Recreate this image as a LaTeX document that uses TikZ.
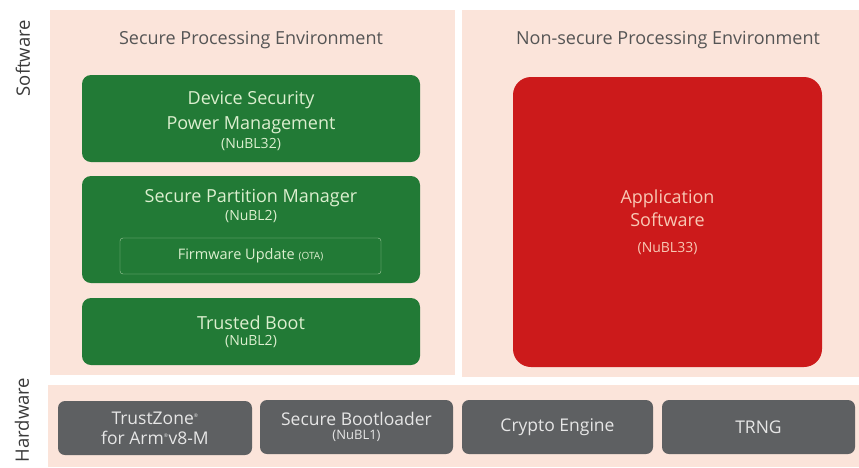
\documentclass[tikz,border=0pt]{standalone}
\usepackage{fontspec}
\setmainfont{Open Sans}
\usetikzlibrary{positioning}
\definecolor{peach}{HTML}{FBE4DA}
\definecolor{secgreen}{HTML}{227A36}
\definecolor{nsred}{HTML}{CC1A1B}
\definecolor{hwgray}{HTML}{5E6062}
\definecolor{titlegray}{HTML}{555555}
\definecolor{sidegray}{HTML}{3A3A3A}
\definecolor{greentext}{HTML}{DCEFCF}
\definecolor{redtext}{HTML}{F8C8B4}
\definecolor{graytext}{HTML}{E6E6E6}

\begin{document}
\begin{tikzpicture}[x=1pt,y=-1pt,
  panel/.style={fill=peach, anchor=north west, inner sep=0pt},
  secbox/.style={fill=secgreen, rounded corners=9pt, minimum width=338pt,
    text=greentext, align=center, font=\fontsize{18}{25}\selectfont},
  hwbox/.style={fill=hwgray, rounded corners=7pt, minimum width=193pt, minimum height=54pt,
    text=graytext, align=center, font=\fontsize{17.5}{20}\selectfont},
  envtitle/.style={text=titlegray, font=\fontsize{18}{20}\selectfont},
  sidelabel/.style={text=sidegray, rotate=90, font=\fontsize{18.5}{22}\selectfont}]
\useasboundingbox (0,0) rectangle (859,467);

% background panels
\node[panel, minimum width=405pt, minimum height=365pt] (spe) at (50,10) {};
\node[panel, minimum width=397pt, minimum height=367pt] (npe) at (462,10) {};
\node[panel, minimum width=811pt, minimum height=82pt] (hw) at (48,385) {};

% side labels
\node[sidelabel] (swlabel) at (23,58) {Software};
\node[sidelabel] (hwlabel) at (22,420) {Hardware};

% environment titles
\node[envtitle] (spetitle) at (251,40) {Secure Processing Environment};
\node[envtitle] (npetitle) at (668,40) {Non-secure Processing Environment};

% secure side
\node[secbox, minimum height=87pt] (dspm) at (251,118.5)
  {\strut Device Security\\Power Management\\[-6pt]{\fontsize{14}{15}\selectfont(NuBL32)}};
\node[secbox, minimum height=107pt] (spm) at (251,229.5) {};
\node[text=greentext, align=center, font=\fontsize{18}{25}\selectfont] (spmtext) at (251,206)
  {Secure Partition Manager\\[-7pt]{\fontsize{14}{15}\selectfont(NuBL2)}};
\node[draw=greentext!70!secgreen, rounded corners=3pt, minimum width=261pt, minimum height=36pt,
  text=greentext, font=\fontsize{14.5}{16}\selectfont] (fwu) at (250.5,256)
  {Firmware Update {\fontsize{10}{11}\selectfont(OTA)}};
\node[secbox, minimum height=67pt] (tboot) at (251,331.5)
  {Trusted Boot\\[-9pt]{\fontsize{14}{15}\selectfont(NuBL2)}};

% non-secure side
\node[fill=nsred, rounded corners=18pt, minimum width=309pt, minimum height=290pt,
  text=redtext, align=center, font=\fontsize{18}{23}\selectfont] (app) at (667.5,222)
  {Application\\Software\\[3pt]{\fontsize{14}{15}\selectfont(NuBL33)}};

% hardware
\node[hwbox, minimum width=194pt] (tz) at (155,428)
  {TrustZone\textsuperscript{\tiny\textregistered}\\for Arm\textsuperscript{\tiny\textregistered}v8-M};
\node[hwbox] (sbl) at (356.5,427)
  {Secure Bootloader\\[-6pt]{\fontsize{13}{14}\selectfont(NuBL1)}};
\node[hwbox, minimum width=191pt] (crypto) at (557.5,427) {Crypto Engine};
\node[hwbox] (trng) at (758.5,427) {TRNG};
\end{tikzpicture}
\end{document}
